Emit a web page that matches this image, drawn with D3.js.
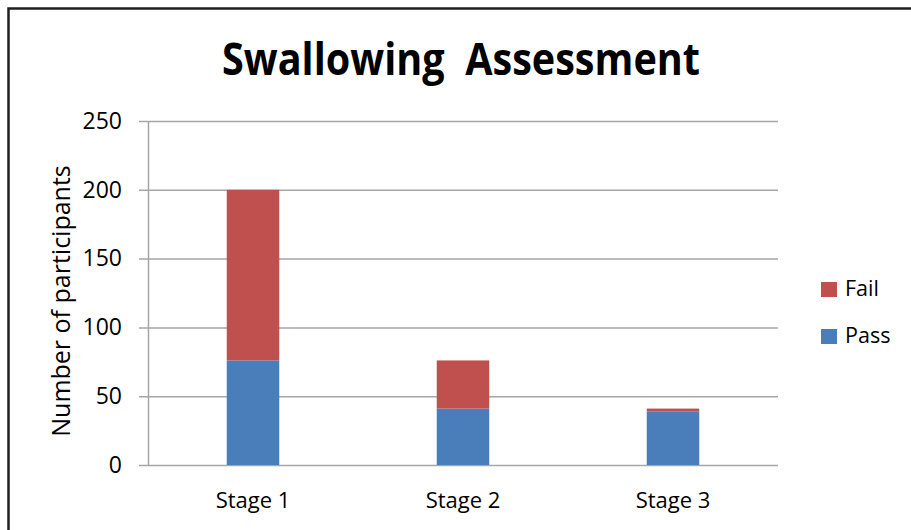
<!DOCTYPE html>
<html>
<head>
<meta charset="utf-8">
<script src="https://cdn.jsdelivr.net/npm/d3@7"></script>
<style>
  html, body { margin: 0; padding: 0; background: #fff; }
  svg { display: block; font-family: "Open Sans", "Noto Sans", sans-serif; }
</style>
</head>
<body>
<svg id="chart" width="911" height="530"></svg>
<script>
// values
const stages = ['Stage 1', 'Stage 2', 'Stage 3']
const passValues = [76, 41, 39]
const failValues = [124, 35, 2]
const seriesNames = ['Pass', 'Fail']
const seriesColors = ['#4a7ebb', '#c0504d']
const yTicks = [0, 50, 100, 150, 200, 250]
const titleText = 'Swallowing  Assessment'
const yLabel = 'Number of participants'

const width = 911
const height = 530
const plot = { left: 148, right: 778, top: 121, bottom: 465 }

const svg = d3.select('#chart')

// frame (only top and left edges are visible in the crop)
svg.append('path')
  .attr('d', `M8.5,${height} V8.5 H${width}`)
  .attr('fill', 'none')
  .attr('stroke', '#231f20')
  .attr('stroke-width', 2.5)

svg.append('text')
  .attr('x', 461)
  .attr('y', 75)
  .attr('text-anchor', 'middle')
  .attr('font-weight', 'bold')
  .attr('font-size', 44)
  .attr('textLength', 478)
  .attr('lengthAdjust', 'spacingAndGlyphs')
  .style('white-space', 'pre')
  .attr('fill', '#000')
  .text(titleText)

const x = d3.scaleBand()
  .domain(stages)
  .range([plot.left, plot.right])
  .paddingInner(0.75)
  .paddingOuter(0.375)

const y = d3.scaleLinear()
  .domain([0, 250])
  .range([plot.bottom, plot.top])

// y axis + gridlines
const yAxis = svg.append('g')
  .attr('transform', `translate(${plot.left},0)`)
  .call(d3.axisLeft(y)
    .tickValues(yTicks)
    .tickSizeInner(-(plot.right - plot.left))
    .tickSizeOuter(0)
    .tickPadding(26))

yAxis.select('.domain')
  .attr('stroke', '#a6a6a6')
  .attr('stroke-width', 1.5)

yAxis.selectAll('.tick line')
  .attr('x1', -9)
  .attr('stroke', '#a6a6a6')
  .attr('stroke-width', 1.5)

yAxis.selectAll('.tick text')
  .attr('font-size', 23)
  .attr('font-family', '"Open Sans", sans-serif')
  .attr('fill', '#000')

// stacked bars
const stackData = stages.map((s, i) => ({ stage: s, Pass: passValues[i], Fail: failValues[i] }))
const stacked = d3.stack().keys(seriesNames)(stackData)

svg.append('g')
  .selectAll('g')
  .data(stacked)
  .join('g')
  .attr('fill', (d, i) => seriesColors[i])
  .selectAll('rect')
  .data(d => d)
  .join('rect')
  .attr('x', d => x(d.data.stage))
  .attr('width', x.bandwidth())
  .attr('y', d => y(d[1]))
  .attr('height', d => y(d[0]) - y(d[1]))

// x axis labels
const xAxis = svg.append('g')
  .attr('transform', `translate(0,${plot.bottom})`)
  .call(d3.axisBottom(x).tickSize(0).tickPadding(0))

xAxis.select('.domain').remove()

xAxis.selectAll('.tick text')
  .attr('dy', null)
  .attr('y', 43)
  .attr('font-size', 22)
  .attr('font-family', '"Open Sans", sans-serif')
  .attr('fill', '#000')

// y axis title
svg.append('text')
  .attr('transform', `translate(70,${(165 + 437) / 2}) rotate(-90)`)
  .attr('text-anchor', 'middle')
  .attr('font-size', 25)
  .attr('fill', '#000')
  .text(yLabel)

// legend (Fail on top, like the reference)
const legendItems = [
  { name: seriesNames[1], color: seriesColors[1] },
  { name: seriesNames[0], color: seriesColors[0] }
]

const legend = svg.append('g')
  .selectAll('g')
  .data(legendItems)
  .join('g')
  .attr('transform', (d, i) => `translate(821,${282 + i * 47})`)

legend.append('rect')
  .attr('width', 16)
  .attr('height', 15)
  .attr('fill', d => d.color)

legend.append('text')
  .attr('x', 24)
  .attr('y', 14)
  .attr('font-size', 21.5)
  .attr('fill', '#000')
  .text(d => d.name)
</script>
</body>
</html>
